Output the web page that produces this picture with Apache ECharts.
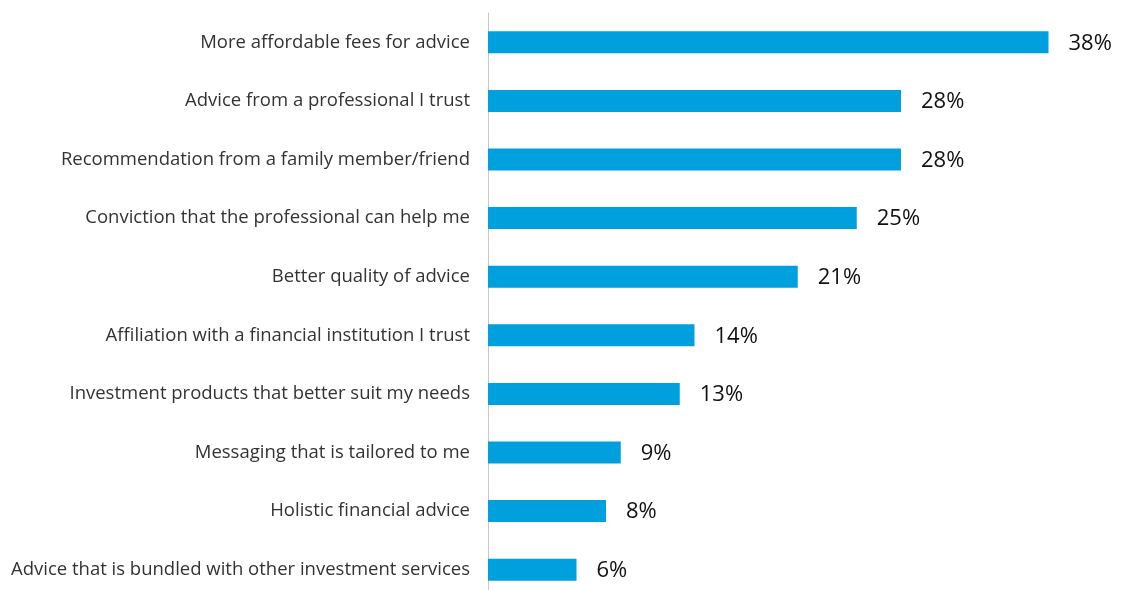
<!DOCTYPE html>
<html>
<head>
<meta charset="utf-8">
<script src="https://cdn.jsdelivr.net/npm/echarts@6/dist/echarts.min.js"></script>
<style>
  html, body { margin: 0; padding: 0; background: #fff; overflow: hidden; }
  #chart { width: 1127px; height: 599px; }
</style>
</head>
<body>
<div id="chart"></div>
<script>
// Reasons to seek advice, share of respondents (%)
const categories = [
  'More affordable fees for advice',
  'Advice from a professional I trust',
  'Recommendation from a family member/friend',
  'Conviction that the professional can help me',
  'Better quality of advice',
  'Affiliation with a financial institution I trust',
  'Investment products that better suit my needs',
  'Messaging that is tailored to me',
  'Holistic financial advice',
  'Advice that is bundled with other investment services'
];
const values = [38, 28, 28, 25, 21, 14, 13, 9, 8, 6];

const chart = echarts.init(document.getElementById('chart'), null, { renderer: 'canvas' });
chart.setOption({
  animation: false,
  grid: { left: 488, right: 49, top: 13, bottom: 0, containLabel: false },
  xAxis: {
    type: 'value', min: 0, max: 40,
    show: false
  },
  yAxis: {
    type: 'category',
    inverse: true,
    data: categories,
    axisLine: { show: true, lineStyle: { color: '#c8c8c8', width: 1 } },
    axisTick: { show: false },
    axisLabel: {
      margin: 18,
      color: '#333333',
      fontFamily: 'Open Sans',
      fontSize: 18.5
    }
  },
  series: [{
    type: 'bar',
    data: values,
    barWidth: 22,
    itemStyle: { color: '#00A0DF' },
    label: {
      show: true,
      position: 'right',
      distance: 20,
      offset: [0, 1],
      formatter: p => p.value + '%',
      color: '#111111',
      fontFamily: 'Open Sans',
      fontSize: 22
    }
  }]
});
</script>
</body>
</html>
